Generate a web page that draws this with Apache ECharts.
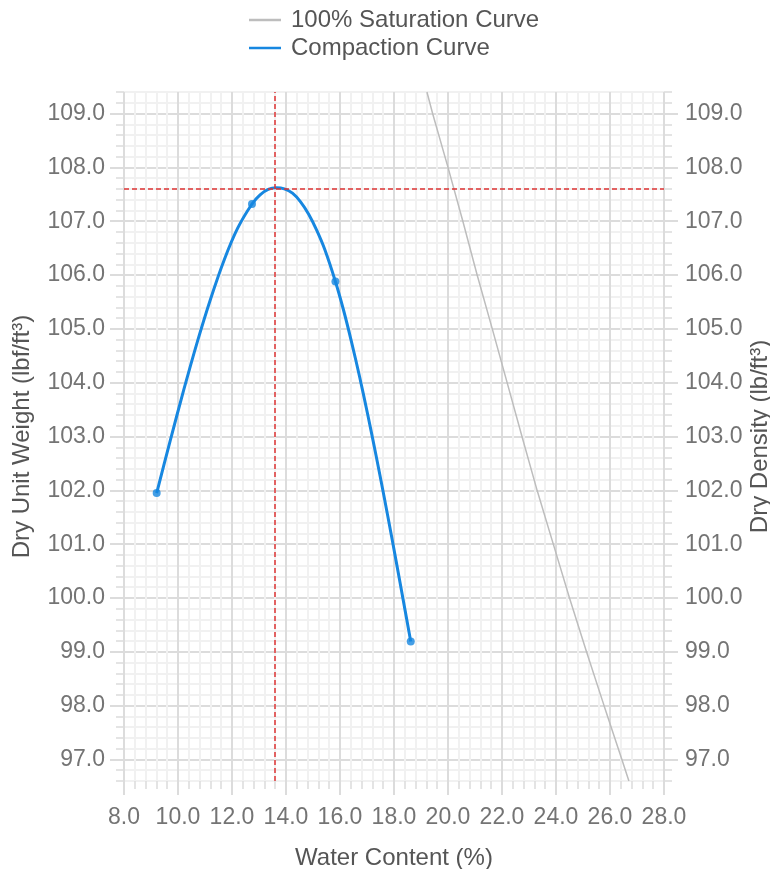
<!DOCTYPE html>
<html>
<head>
<meta charset="utf-8">
<script src="https://cdn.jsdelivr.net/npm/echarts@6/dist/echarts.min.js"></script>
<style>html,body{margin:0;padding:0;background:#fff}#c{width:770px;height:869px}</style>
</head>
<body>
<div id="c"></div>
<script>
// Measured compaction test points [water content %, dry unit weight]
const measuredPoints = [[9.21, 101.95], [12.74, 107.32], [15.83, 105.88], [18.62, 99.19]];
// Compaction curve
const compactionCurve = [
  [9.21, 101.95], [9.71, 102.92], [10.21, 103.86], [10.71, 104.75], [11.21, 105.56],
  [11.71, 106.28], [12.21, 106.87], [12.74, 107.32], [13.04, 107.49], [13.34, 107.59],
  [13.64, 107.62], [13.94, 107.60], [14.24, 107.52], [14.54, 107.36], [14.84, 107.13],
  [15.14, 106.83], [15.44, 106.47], [15.83, 105.88], [16.13, 105.35], [16.43, 104.75],
  [16.73, 104.10], [17.03, 103.40], [17.33, 102.66], [17.63, 101.89], [17.93, 101.09],
  [18.23, 100.27], [18.62, 99.19]
];
// 100% saturation curve
const saturationCurve = [
  [19.22, 109.4], [19.43, 109.0], [20.0, 108.0], [20.55, 107.0], [21.08, 106.0],
  [21.64, 105.0], [22.19, 104.0], [22.74, 103.0], [23.30, 102.0], [23.90, 101.0],
  [24.50, 100.0], [25.13, 99.0], [25.78, 98.0], [26.44, 97.0], [26.70, 96.6]
];
// Optimum (max dry unit weight) point
const optimum = [13.6, 107.6];
const xMajorTicks = [8, 10, 12, 14, 16, 18, 20, 22, 24, 26, 28];
const yMajorTicks = [97, 98, 99, 100, 101, 102, 103, 104, 105, 106, 107, 108, 109];
const seriesNames = ['100% Saturation Curve', 'Compaction Curve'];

const MAJ = '#dcdcdc', MIN = '#f1f1f1';
const labelColor = '#747474', nameColor = '#555';
const FS = 23, NFS = 24;
const FF = 'Liberation Sans';
const isInt = v => Math.abs(v - Math.round(v)) < 1e-6;

function yAxisBase(pos) {
  return {
    type: 'value', position: pos, min: 96.6, max: 109.4, interval: 0.2,
    axisLine: { show: false },
    axisTick: { show: true, length: 8, lineStyle: { color: MAJ, width: 1.5 } },
    splitLine: { show: false },
    axisLabel: { show: false }
  };
}
const yLeft = Object.assign(yAxisBase('left'), {
  name: 'Dry Unit Weight (lbf/ft³)', nameLocation: 'middle', nameGap: 90, nameRotate: 90,
  nameMoveOverlap: false,
  nameTextStyle: { color: nameColor, fontSize: NFS, fontFamily: FF },
  splitLine: { show: true, showMinLine: true, showMaxLine: true,
    lineStyle: { color: [MIN, MIN, MAJ, MIN, MIN], width: 2 } },
  axisLabel: { show: true, margin: 19, color: labelColor, fontSize: FS, fontFamily: FF,
    padding: [4, 0, 0, 0],
    formatter: v => isInt(v) ? Math.round(v).toFixed(1) : '' }
});
const yRight = Object.assign(yAxisBase('right'), {
  name: 'Dry Density (lb/ft³)', nameLocation: 'middle', nameGap: 84, nameRotate: 90,
  nameMoveOverlap: false,
  nameTextStyle: { color: nameColor, fontSize: NFS, fontFamily: FF },
  axisLabel: { show: true, margin: 21, color: labelColor, fontSize: FS, fontFamily: FF,
    padding: [4, 0, 0, 0],
    formatter: v => isInt(v) ? Math.round(v).toFixed(1) : '' }
});
const yLeftMajor = Object.assign(yAxisBase('left'), {
  axisTick: { show: true, length: 14, customValues: yMajorTicks, lineStyle: { color: MAJ, width: 2 } }
});
const yRightMajor = Object.assign(yAxisBase('right'), {
  axisTick: { show: true, length: 14, customValues: yMajorTicks, lineStyle: { color: MAJ, width: 2 } }
});

const xMain = {
  type: 'value', position: 'bottom', min: 8, max: 28, interval: 0.4,
  name: 'Water Content (%)', nameLocation: 'middle', nameGap: 65,
  nameTextStyle: { color: nameColor, fontSize: NFS, fontFamily: FF },
  axisLine: { show: false },
  axisTick: { show: true, length: 8, lineStyle: { color: MAJ, width: 1.5 } },
  splitLine: { show: true, showMinLine: true, showMaxLine: true,
    lineStyle: { color: [MAJ, MIN, MIN, MIN, MIN], width: 2 } },
  axisLabel: { margin: 25, color: labelColor, fontSize: FS, fontFamily: FF,
    formatter: v => (isInt(v) && Math.round(v) % 2 === 0) ? Math.round(v).toFixed(1) : '' }
};
const xMajor = {
  type: 'value', position: 'bottom', min: 8, max: 28, interval: 0.4,
  axisLine: { show: false }, splitLine: { show: false }, axisLabel: { show: false },
  axisTick: { show: true, length: 14, customValues: xMajorTicks, lineStyle: { color: MAJ, width: 2 } }
};

const lineIcon = 'path://M0,0 L32,0 L32,2.5 L0,2.5 Z';
const chart = echarts.init(document.getElementById('c'), null, { renderer: 'canvas' });
chart.setOption({
  animation: false,
  backgroundColor: '#fff',
  grid: { left: 124, right: 106, top: 92, bottom: 88, containLabel: false, outerBoundsMode: 'none' },
  legend: {
    data: seriesNames.map(n => ({ name: n, icon: lineIcon })),
    orient: 'vertical', left: 244, top: 3,
    itemWidth: 32, itemHeight: 14, itemGap: 4,
    textStyle: { color: nameColor, fontSize: NFS, fontFamily: FF, padding: [0, 0, 0, 5] }
  },
  xAxis: [xMain, xMajor],
  yAxis: [yLeft, yRight, yLeftMajor, yRightMajor],
  series: [
    { name: seriesNames[0], type: 'line', data: saturationCurve, symbol: 'none',
      lineStyle: { color: '#bdbdbd', width: 1.5 }, itemStyle: { color: '#bdbdbd' }, z: 3 },
    { name: seriesNames[1], type: 'line', data: compactionCurve, symbol: 'none', smooth: 0.3,
      lineStyle: { color: '#1787e0', width: 3 }, itemStyle: { color: '#1787e0' }, z: 4,
      markLine: { silent: true, symbol: 'none', label: { show: false },
        lineStyle: { color: '#dd3333', width: 1.5, type: [5, 3] },
        data: [{ xAxis: optimum[0] }, { yAxis: optimum[1] }] } },
    { name: 'Test Points', type: 'scatter', data: measuredPoints, symbol: 'circle', symbolSize: 8,
      itemStyle: { color: '#1787e0' }, z: 5 }
  ]
});
</script>
</body>
</html>
